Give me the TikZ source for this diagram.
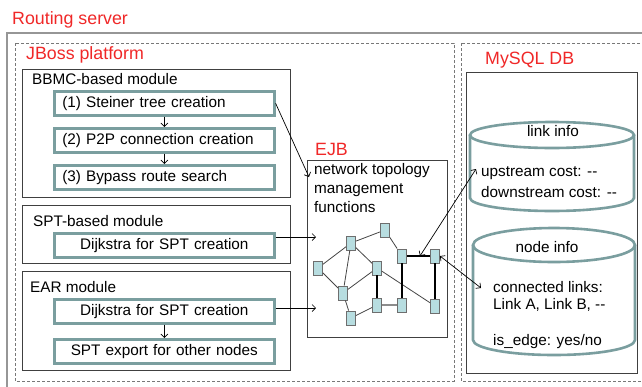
\documentclass[tikz,border=0pt]{standalone}
\usepackage{fontspec}
\setmainfont{Liberation Sans}
\usetikzlibrary{arrows.meta,calc}
\definecolor{tealb}{RGB}{122,158,159}
\definecolor{redl}{RGB}{240,40,40}
\definecolor{gfill}{RGB}{183,221,224}
\definecolor{dashg}{RGB}{120,120,120}
\definecolor{boxg}{RGB}{64,64,64}
\begin{document}
\begin{tikzpicture}[x=1pt,y=-1pt,
  font=\fontsize{15.3}{19}\selectfont,
  redlabel/.style={text=redl, font=\fontsize{17.8}{20}\selectfont, anchor=west, inner sep=0pt},
  plainlabel/.style={anchor=west, inner sep=0pt},
  modbox/.style={draw=boxg, line width=0.9pt, anchor=north west, inner sep=0pt},
  tealbox/.style={draw=tealb, line width=2.6pt, fill=white, anchor=north west, inner sep=0pt,
     minimum width=220pt, minimum height=24pt, text width=204pt},
  dashbox/.style={draw=dashg, line width=0.9pt, dash pattern=on 3pt off 2pt},
  gnode/.style={draw={rgb,255:red,110;green,110;blue,110}, line width=0.9pt, fill=gfill,
     minimum width=9pt, minimum height=14pt, inner sep=0pt},
  gedge/.style={draw={rgb,255:red,70;green,70;blue,70}, line width=0.8pt},
  bedge/.style={draw=black, line width=1.1pt},
  grayedge/.style={draw={rgb,255:red,140;green,140;blue,140}, line width=2pt},
  arr/.style={-{Straight Barb[length=3.5pt,width=7pt]}, line width=0.7pt},
  darr/.style={{Straight Barb[length=3.5pt,width=7pt]}-{Straight Barb[length=3.5pt,width=7pt]}, line width=0.7pt},
  cyl/.style={draw=tealb, line width=2.6pt}
]
\useasboundingbox (0,0) rectangle (642,386);
\fill[white] (0,0) rectangle (642,386);

% outer containers
\draw[line width=1.3pt, draw={rgb,255:red,150;green,150;blue,150}] (7,33) rectangle (660,400);
\draw[dashbox] (15,43) rectangle (454,381);
\draw[dashbox] (461,43) rectangle (660,381);

\node[redlabel] (rs) at (12,20) {Routing server};
\node[redlabel] (jb) at (26,55) {JBoss platform};
\node[redlabel] (ejbl) at (315,149) {EJB};
\node[redlabel] (myl) at (485,60) {MySQL DB};

% module boxes
\node[modbox, minimum width=268pt, minimum height=128pt] (bbmc) at (22,69) {};
\node[modbox, minimum width=268pt, minimum height=58pt] (spt) at (22,205) {};
\node[modbox, minimum width=268pt, minimum height=99pt] (ear) at (22,271) {};
\node[modbox, minimum width=140pt, minimum height=177pt] (ejb) at (307,160) {};
\node[modbox, minimum width=171pt, minimum height=301pt] (db) at (466,72) {};

\node[plainlabel] (bbmcl) at (32,79) {BBMC-based module};
\node[plainlabel] (sptl) at (33,221) {SPT-based module};
\node[plainlabel] (earl) at (30,287) {EAR module};

% teal step boxes
\node[tealbox, align=left] (s1) at (53,90) {(1) Steiner tree creation};
\node[tealbox, align=left] (s2) at (53,127) {(2) P2P connection creation};
\node[tealbox, align=left] (s3) at (53,164) {(3) Bypass route search};
\node[tealbox, align=center] (d1) at (53,232) {Dijkstra for SPT creation};
\node[tealbox, align=center] (d2) at (53,298) {Dijkstra for SPT creation};
\node[tealbox, align=center] (x1) at (53,338) {SPT export for other nodes};

\draw[arr] (s1.south) -- (s2.north);
\draw[arr] (s2.south) -- (s3.north);
\draw[arr] (d2.south) -- (x1.north);

% EJB text
\node[anchor=north west, inner sep=0pt, align=left] (ejbt) at (314,163)
  {network topology\\management\\functions};

% arrows into EJB
\coordinate (t1) at (309,177);
\coordinate (t2) at (316,237);
\coordinate (t3) at (316,308);
\draw[arr] (s1.east) -- (t1);
\draw[arr] (d1.east |- t2) -- (t2);
\draw[arr] (d2.east |- t3) -- (t3);

% graph
\node[gnode] (A) at (385,230) {};
\node[gnode] (B) at (351,243) {};
\node[gnode] (C) at (402,256) {};
\node[gnode] (D) at (435,256) {};
\node[gnode] (E) at (318,268) {};
\node[gnode] (F) at (377,268) {};
\node[gnode] (G) at (343,293) {};
\node[gnode] (H) at (377,305) {};
\node[gnode] (I) at (402,305) {};
\node[gnode] (J) at (435,306) {};
\node[gnode] (K) at (351,318) {};

\draw[gedge] (A) -- (B);
\draw[gedge] (A) -- (C);
\draw[gedge] (B) -- (E);
\draw[gedge] (B) -- (G);
\draw[gedge] (B) -- (F);
\draw[gedge] (E) -- (G);
\draw[gedge] (G) -- (F);
\draw[gedge] (G) -- (K);
\draw[gedge] (H) -- (K);
\draw[gedge] (F) -- (J);
\draw[bedge] (F) -- (H);
\draw[bedge] (C) -- (D);
\draw[bedge] (C) -- (I);
\draw[bedge] (D) -- (J);
\draw[grayedge] (H) -- (I);

% cylinders
\draw[cyl, fill=white] (470,135) -- (470,198) arc[start angle=180, end angle=0, x radius=82, y radius=13] -- (634,135);
\draw[cyl] (552,135) ellipse [x radius=82, y radius=13];
\draw[cyl, fill=white] (473,245) -- (473,340) arc[start angle=180, end angle=0, x radius=81, y radius=15] -- (635,245);
\draw[cyl] (554,245) ellipse [x radius=81, y radius=17];

\node (li) at (553,131) {link info};
\node[plainlabel] (up) at (481,173) {upstream cost: -{}-};
\node[plainlabel] (down) at (481,192) {downstream cost: -{}-};
\node (ni) at (547,247) {node info};
\node[plainlabel] (cl) at (493,287) {connected links:};
\node[plainlabel] (lab) at (493,305) {Link A, Link B, -{}-};
\node[plainlabel] (ie) at (493,342) {is\_edge: yes/no};

% arrows to DB
\coordinate (cd) at (420,256);
\coordinate (lk) at (476,169);
\coordinate (nd) at (481,288);
\draw[darr] (cd) -- (lk);
\draw[darr] (D.east) -- (nd);
\end{tikzpicture}
\end{document}
